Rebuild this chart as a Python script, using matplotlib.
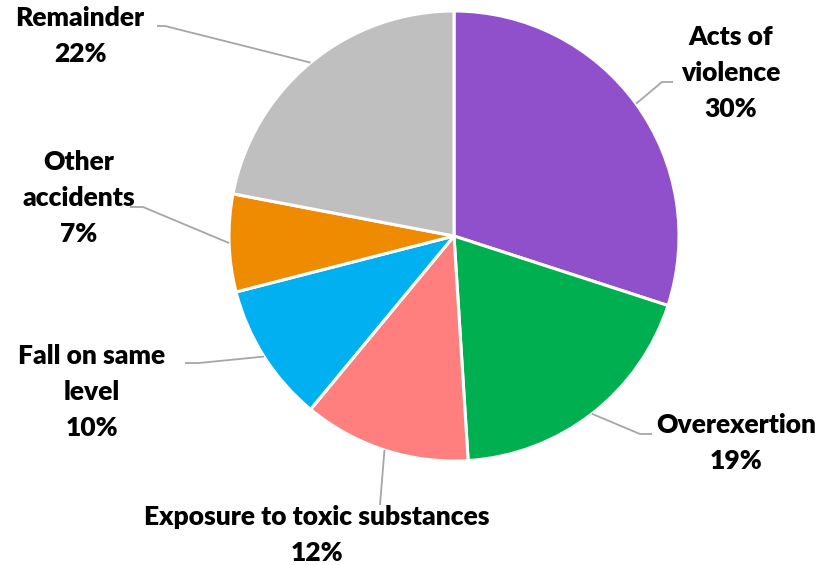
import numpy as np
import matplotlib
matplotlib.use("Agg")
import matplotlib.pyplot as plt

categories = ["Acts of\nviolence", "Overexertion", "Exposure to toxic substances",
              "Fall on same\nlevel", "Other\naccidents", "Remainder"]
shares = [30, 19, 12, 10, 7, 22]
colors = ["#9150CB", "#00B050", "#FF7F7F", "#00B0F0", "#EE8B00", "#BFBFBF"]

W, H = 821, 565
fig = plt.figure(figsize=(W / 100, H / 100), dpi=100)
ax = fig.add_axes([0, 0, 1, 1])

cx, cy, R = 454, H - 236, 225
wedges, _ = ax.pie(shares, colors=colors, startangle=90, counterclock=False,
                   center=(cx, cy), radius=R, frame=True,
                   wedgeprops=dict(edgecolor="white", linewidth=2.2))
ax.set_xlim(0, W)
ax.set_ylim(0, H)
ax.set_aspect("equal")
ax.axis("off")

# label layout: (text centre x, text centre y, elbow x, elbow y, end x, end y) in pixels from top
layout = [
    (731, 73, 662, 82, 673, 82),
    (736, 443, 640, 434, 652, 434),
    (317, 535, 380, 505, 380, 505),
    (92, 392, 199, 363, 185, 363),
    (79, 198, 143, 207, 130, 207),
    (80, 36, 165, 26, 157, 26),
]

font = dict(family=["Lato", "DejaVu Sans"], fontweight="heavy", fontsize=19)
for w, name, v, (tx, ty, ex, ey, lx, ly) in zip(wedges, categories, shares, layout):
    mid = np.deg2rad((w.theta1 + w.theta2) / 2)
    sx, sy = cx + R * np.cos(mid), cy + R * np.sin(mid)
    ax.plot([sx, ex, lx], [sy, H - ey, H - ly], color="#A6A6A6", lw=1.3,
            solid_capstyle="butt", zorder=1)
    ax.text(tx, H - ty, f"{name}\n{v}%", ha="center", va="center",
            linespacing=1.6, color="black", **font)

fig.savefig("out.png", dpi=100)
